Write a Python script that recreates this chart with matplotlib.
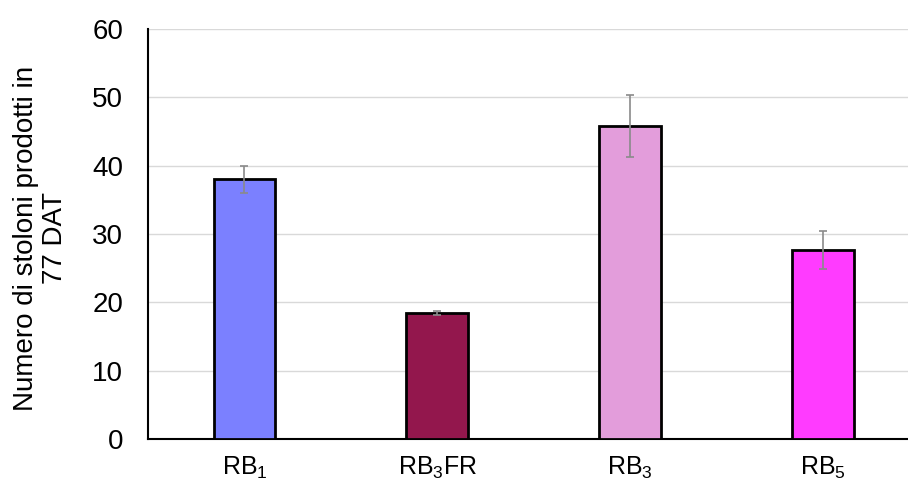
import matplotlib
matplotlib.use("Agg")
import matplotlib.pyplot as plt

categories = [r"RB$_1$", r"RB$_3$FR", r"RB$_3$", r"RB$_5$"]
values = [38.0, 18.4, 45.8, 27.7]
errors = [2.0, 0.3, 4.6, 2.8]
colors = ["#7B80FF", "#93174D", "#E39DDB", "#FF3BFF"]

plt.rcParams["font.family"] = ["Liberation Sans", "DejaVu Sans"]
plt.rcParams["mathtext.default"] = "regular"

fig = plt.figure(figsize=(9.08, 4.83), dpi=100)
ax = fig.add_axes([0.163, 0.091, 0.837, 0.849])

x = list(range(len(categories)))
ax.bar(x, values, width=0.32, color=colors, edgecolor="black", linewidth=2.0, zorder=3)
ax.errorbar(x, values, yerr=errors, fmt="none", ecolor="#8a8a8a", elinewidth=1.2,
            capsize=3, capthick=1.2, zorder=4)

ax.set_ylim(0, 60)
ax.set_xlim(-0.5, 3.44)
ax.set_yticks(range(0, 61, 10))
ax.set_xticks(x)
ax.set_xticklabels(categories, fontsize=18)
ax.tick_params(axis="y", labelsize=20, length=0, pad=18)
ax.tick_params(axis="x", length=0, pad=11)
ax.yaxis.grid(True, color="#d9d9d9", linewidth=1, zorder=0)
ax.set_axisbelow(True)

for side in ("top", "right"):
    ax.spines[side].set_visible(False)
ax.spines["left"].set_linewidth(1.5)
ax.spines["bottom"].set_linewidth(1.5)

ax.set_ylabel("Numero di stoloni prodotti in\n77 DAT", fontsize=20, linespacing=1.15)
ax.yaxis.set_label_coords(-0.105, 0.49)

fig.savefig("out.png", dpi=100)
